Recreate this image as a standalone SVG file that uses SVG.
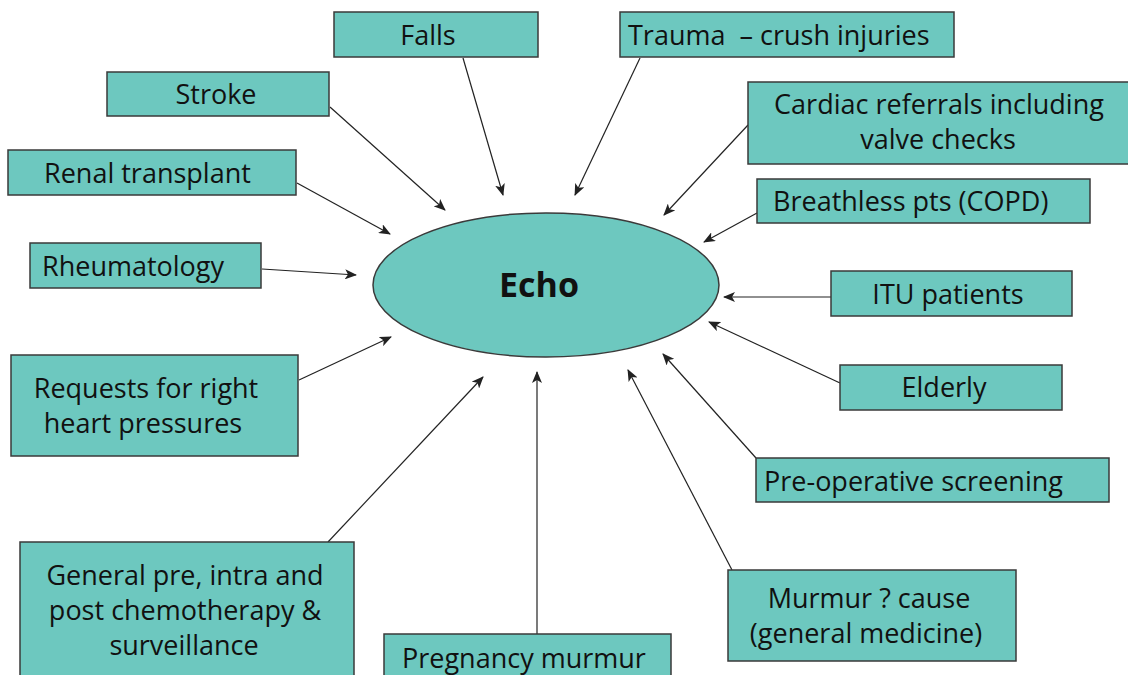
<svg xmlns="http://www.w3.org/2000/svg" width="1128" height="675" viewBox="0 0 1128 675">
<defs>
<style>
.box{fill:#6dc8bf;stroke:#3a3a3a;stroke-width:1.5}
.t{font-family:"Open Sans","Liberation Sans",sans-serif;font-size:27px;fill:#111}
.c{text-anchor:middle}
.e{font-family:"Open Sans","Liberation Sans",sans-serif;font-size:34px;font-weight:bold;fill:#111;text-anchor:middle}
.ln{stroke:#222;stroke-width:1.2;fill:none;marker-end:url(#ah)}
</style>
<marker id="ah" viewBox="0 0 12 10" refX="11" refY="5" markerWidth="12" markerHeight="10" markerUnits="userSpaceOnUse" orient="auto">
<path d="M0,0 L12,5 L0,10 L3,5 Z" fill="#222"/>
</marker>
</defs>
<rect width="1128" height="675" fill="#fff"/>
<g id="connectors">
<line class="ln" x1="463" y1="58" x2="503" y2="195"/>
<line class="ln" x1="640" y1="58" x2="575" y2="195"/>
<line class="ln" x1="330" y1="107" x2="445" y2="210"/>
<line class="ln" x1="748" y1="125" x2="664" y2="215"/>
<line class="ln" x1="297" y1="183" x2="390" y2="234"/>
<line class="ln" x1="757" y1="213" x2="704" y2="242"/>
<line class="ln" x1="262" y1="269" x2="356" y2="275"/>
<line class="ln" x1="831" y1="297" x2="724" y2="297"/>
<line class="ln" x1="299" y1="380" x2="391" y2="337"/>
<line class="ln" x1="840" y1="383" x2="709" y2="322"/>
<line class="ln" x1="756" y1="458" x2="663" y2="354"/>
<line class="ln" x1="328" y1="542" x2="483" y2="377"/>
<line class="ln" x1="537" y1="634" x2="537" y2="372"/>
<line class="ln" x1="732" y1="570" x2="628" y2="370"/>
</g>
<g id="echo">
<ellipse class="box" cx="546" cy="285" rx="173" ry="72"/>
<text class="e" x="539" y="297">Echo</text>
</g>
<g id="falls"><rect class="box" x="334" y="12" width="204" height="45"/><text class="t c" x="428" y="45">Falls</text></g>
<g id="trauma"><rect class="box" x="620" y="12" width="334" height="45"/><text class="t" x="628" y="45">Trauma&#160; – crush injuries</text></g>
<g id="stroke"><rect class="box" x="107" y="72" width="222" height="44"/><text class="t c" x="216" y="104">Stroke</text></g>
<g id="cardiac"><rect class="box" x="748" y="82" width="382" height="82"/><text class="t c" x="939" y="114">Cardiac referrals including</text><text class="t c" x="938" y="149">valve checks</text></g>
<g id="renal"><rect class="box" x="8" y="150" width="288" height="45"/><text class="t" x="44" y="183">Renal transplant</text></g>
<g id="breathless"><rect class="box" x="757" y="179" width="333" height="44"/><text class="t" x="773" y="211">Breathless pts (COPD)</text></g>
<g id="rheumatology"><rect class="box" x="30" y="243" width="231" height="45"/><text class="t" x="42" y="276">Rheumatology</text></g>
<g id="itu"><rect class="box" x="831" y="271" width="241" height="45"/><text class="t c" x="948" y="304">ITU patients</text></g>
<g id="requests"><rect class="box" x="11" y="355" width="287" height="101"/><text class="t c" x="146" y="398">Requests for right</text><text class="t c" x="143" y="433">heart pressures</text></g>
<g id="elderly"><rect class="box" x="840" y="365" width="222" height="45"/><text class="t c" x="944" y="397">Elderly</text></g>
<g id="preop"><rect class="box" x="756" y="458" width="353" height="44"/><text class="t" x="764" y="491">Pre-operative screening</text></g>
<g id="general"><rect class="box" x="20" y="542" width="334" height="140"/><text class="t c" x="185" y="585">General pre, intra and</text><text class="t c" x="185" y="620">post chemotherapy &amp;</text><text class="t c" x="184" y="655">surveillance</text></g>
<g id="pregnancy"><rect class="box" x="384" y="634" width="287" height="50"/><text class="t" x="402" y="668">Pregnancy murmur</text></g>
<g id="murmur"><rect class="box" x="728" y="570" width="288" height="91"/><text class="t c" x="869" y="608">Murmur ? cause</text><text class="t c" x="866" y="643">(general medicine)</text></g>
</svg>
